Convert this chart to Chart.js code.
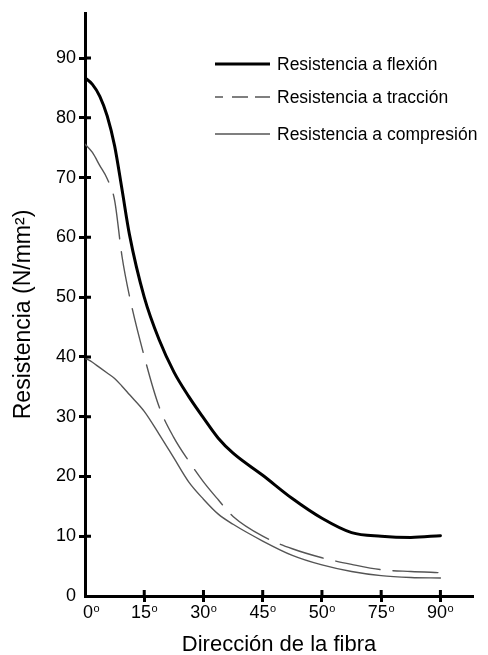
<!DOCTYPE html>
<html>
<head>
<meta charset="utf-8">
<script src="https://cdn.jsdelivr.net/npm/chart.js@4/dist/chart.umd.min.js"></script>
<style>
  html, body { margin: 0; padding: 0; background: #fff; }
  #wrap { width: 488px; height: 655px; }
</style>
</head>
<body>
<div id="wrap"><canvas id="c" width="488" height="655"></canvas></div>
<script>
// Fibre direction categories (equally spaced on the axis); drawn with a raised "o"
const angleLabels = ['0', '15', '30', '45', '50', '75', '90'];
// Positions along the direction axis (in category steps) where the curves are sampled
const samplePos = [0, 0.125, 0.25, 0.375, 0.5, 0.625, 0.75, 1, 1.25, 1.5, 1.75, 2, 2.25, 2.5, 3, 3.5, 4, 4.5, 5, 5.5, 6];
// Strength values, N/mm²
const flexion    = [86.7, 85.6, 83.6, 80.3, 75.3, 68.0, 60.5, 50.0, 42.9, 37.5, 33.4, 29.8, 26.4, 23.9, 20.2, 16.3, 13.0, 10.6, 10.0, 9.8, 10.1];
const traccion   = [75.6, 74.2, 72.0, 69.8, 66.2, 56.8, 50.2, 40.1, 31.7, 26.5, 22.6, 19.1, 16.1, 13.3, 10.0, 7.9, 6.4, 5.3, 4.4, 4.1, 3.9];
const compresion = [39.8, 39.1, 38.2, 37.3, 36.4, 35.1, 33.7, 30.9, 27.1, 23.1, 19.1, 16.2, 13.7, 12.0, 9.2, 6.8, 5.2, 4.1, 3.4, 3.1, 3.0];
const yTicks = [0, 10, 20, 30, 40, 50, 60, 70, 80, 90];
const seriesNames = ['Resistencia a flexión', 'Resistencia a tracción', 'Resistencia a compresión'];

const FONT = "'Liberation Sans', Arial, Helvetica, sans-serif";
const toPoints = vals => samplePos.map((x, i) => ({ x, y: vals[i] }));

// Tick marks that cross the axis line: this draws the half inside the plot
const innerTicks = {
  id: 'innerTicks',
  afterDraw(chart) {
    const { ctx, chartArea: a, scales: { x, y } } = chart;
    ctx.save();
    ctx.strokeStyle = '#000';
    ctx.lineWidth = 3;
    ctx.beginPath();
    y.ticks.forEach(t => {
      if (t.value === 0) return;
      const py = y.getPixelForValue(t.value);
      ctx.moveTo(a.left, py); ctx.lineTo(a.left + 6, py);
    });
    x.ticks.forEach(t => {
      if (t.value === 0) return;
      const px = x.getPixelForValue(t.value);
      ctx.moveTo(px, a.bottom); ctx.lineTo(px, a.bottom - 6);
    });
    ctx.stroke();
    ctx.restore();
  }
};

// Angle labels under the x ticks, with the "o" set as a superscript
const angleTickLabels = {
  id: 'angleTickLabels',
  afterDraw(chart) {
    const { ctx, chartArea: a, scales: { x } } = chart;
    ctx.save();
    ctx.fillStyle = '#000';
    ctx.textBaseline = 'alphabetic';
    ctx.textAlign = 'left';
    x.ticks.forEach(t => {
      const txt = angleLabels[t.value];
      ctx.font = `18px ${FONT}`;
      const wNum = ctx.measureText(txt).width;
      ctx.font = `11px ${FONT}`;
      const wSup = ctx.measureText('o').width;
      const w = wNum + wSup + 0.5;
      let cx = x.getPixelForValue(t.value);
      cx = Math.max(cx, a.left - 2 + w / 2);
      const left = cx - w / 2;
      const base = a.bottom + 22;
      ctx.font = `18px ${FONT}`;
      ctx.fillText(txt, left, base);
      ctx.font = `11px ${FONT}`;
      ctx.fillText('o', left + wNum + 0.5, base - 6);
    });
    ctx.restore();
  }
};

// Legend in the upper right of the plot: sample line + series name
const lineLegend = {
  id: 'lineLegend',
  afterDraw(chart) {
    const { ctx } = chart;
    const rows = [64, 97, 134];
    const x0 = 215, x1 = 270, tx = 277;
    ctx.save();
    chart.data.datasets.forEach((ds, i) => {
      const yy = rows[i];
      ctx.strokeStyle = ds.borderColor;
      ctx.lineWidth = ds.borderWidth;
      ctx.setLineDash(ds.borderDash ? [8, 9, 16, 7, 15, 100] : []);
      ctx.beginPath();
      ctx.moveTo(x0, yy); ctx.lineTo(x1, yy);
      ctx.stroke();
      ctx.setLineDash([]);
      ctx.fillStyle = '#000';
      ctx.font = `17.5px ${FONT}`;
      ctx.textBaseline = 'middle';
      ctx.textAlign = 'left';
      ctx.fillText(ds.label, tx, yy + 1);
    });
    ctx.restore();
  }
};

const tickColor = c => (c.tick && c.tick.value === 0) ? 'rgba(0,0,0,0)' : '#000';

new Chart(document.getElementById('c'), {
  type: 'line',
  data: {
    datasets: [
      { label: seriesNames[0], data: toPoints(flexion), borderColor: '#000', borderWidth: 3 },
      { label: seriesNames[1], data: toPoints(traccion), borderColor: '#555', borderWidth: 1.4, borderDash: [45, 13] },
      { label: seriesNames[2], data: toPoints(compresion), borderColor: '#555', borderWidth: 1.4 }
    ]
  },
  options: {
    responsive: false,
    animation: false,
    devicePixelRatio: 1,
    layout: { padding: { top: 13, right: 15, left: 0, bottom: 0 } },
    elements: {
      point: { radius: 0 },
      line: { cubicInterpolationMode: 'monotone', fill: false, borderCapStyle: 'round' }
    },
    plugins: { legend: { display: false }, tooltip: { enabled: false } },
    scales: {
      x: {
        type: 'linear',
        min: 0,
        max: 6.55,
        afterBuildTicks: s => { s.ticks = angleLabels.map((_, i) => ({ value: i })); },
        afterFit: s => { s.height = 59; },
        ticks: { display: false },
        grid: { drawOnChartArea: false, tickLength: 6, tickWidth: 3, tickColor },
        border: { display: true, width: 3, color: '#000' },
        title: {
          display: true,
          text: 'Dirección de la fibra',
          color: '#000',
          font: { family: FONT, size: 22 },
          padding: { top: 0, bottom: -3 }
        }
      },
      y: {
        type: 'linear',
        min: 0,
        max: 97.4,
        afterBuildTicks: s => { s.ticks = yTicks.map(v => ({ value: v })); },
        afterFit: s => { s.width = 85; },
        ticks: {
          color: '#000',
          font: { family: FONT, size: 18 },
          padding: 3
        },
        grid: { drawOnChartArea: false, tickLength: 6, tickWidth: 3, tickColor },
        border: { display: true, width: 3, color: '#000' },
        title: {
          display: true,
          text: 'Resistencia (N/mm²)   ',
          color: '#000',
          font: { family: FONT, size: 23 },
          padding: { top: 10, bottom: 0 }
        }
      }
    }
  },
  plugins: [innerTicks, angleTickLabels, lineLegend]
});
</script>
</body>
</html>
